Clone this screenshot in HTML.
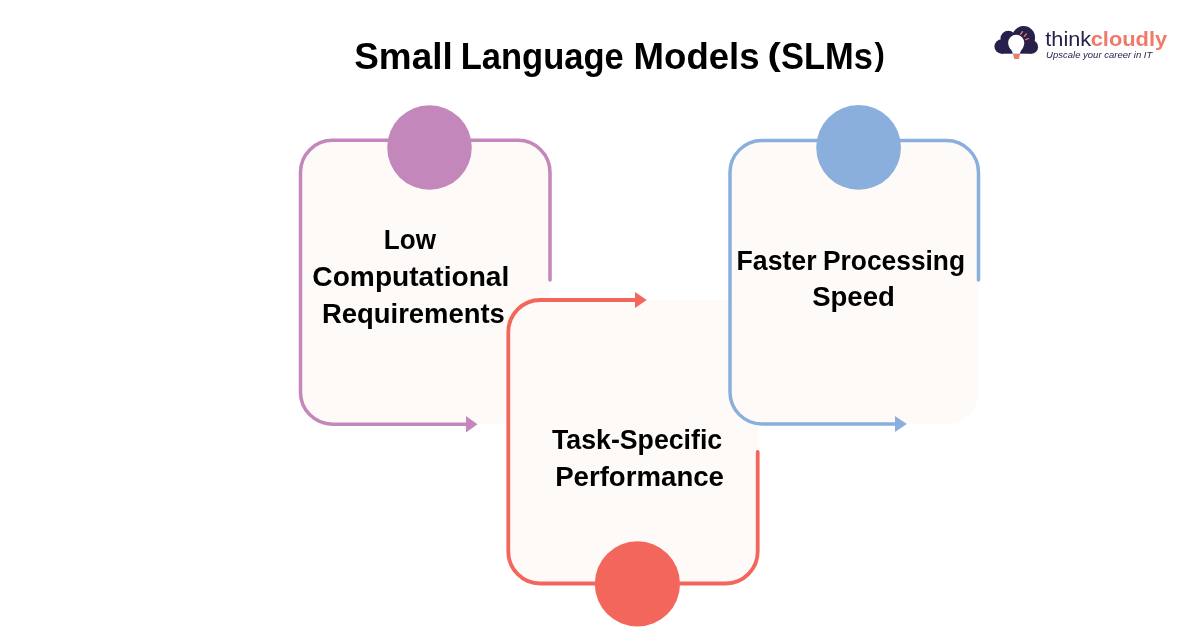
<!DOCTYPE html>
<html>
<head>
<meta charset="utf-8">
<style>
html,body{margin:0;padding:0;background:#ffffff;}
body{width:1200px;height:627px;overflow:hidden;position:relative;font-family:"Liberation Sans", sans-serif;}
svg{position:absolute;left:0;top:0;will-change:transform;}
</style>
</head>
<body>
<svg width="1200" height="627" viewBox="0 0 1200 627">
  <!-- Purple box -->
  <rect x="300.5" y="140.3" width="249.5" height="283.9" rx="32" ry="32" fill="#fefaf7"/>
  <path d="M550 280 V172.3 A32 32 0 0 0 518 140.3 H332.5 A32 32 0 0 0 300.5 172.3 V392.2 A32 32 0 0 0 332.5 424.2 H467" fill="none" stroke="#c487bb" stroke-width="3.5" stroke-linecap="round"/>
  <polygon points="466,416 477.5,424.2 466,432.4" fill="#c487bb"/>
  <circle cx="429.5" cy="147.5" r="42.3" fill="#c487bb"/>

  <!-- Red box -->
  <rect x="508.3" y="300" width="249.4" height="283.5" rx="32" ry="32" fill="#fefaf7"/>
  <path d="M757.7 452 V551.5 A32 32 0 0 1 725.7 583.5 H540.3 A32 32 0 0 1 508.3 551.5 V332 A32 32 0 0 1 540.3 300 H636" fill="none" stroke="#f3665b" stroke-width="3.8" stroke-linecap="round"/>
  <polygon points="635,292 646.7,300 635,308" fill="#f3665b"/>
  <circle cx="637.4" cy="583.9" r="42.6" fill="#f3665b"/>

  <!-- Blue box -->
  <rect x="730" y="140.5" width="248.5" height="283.5" rx="32" ry="32" fill="#fefaf7"/>
  <path d="M978.5 280 V172.5 A32 32 0 0 0 946.5 140.5 H762 A32 32 0 0 0 730 172.5 V392 A32 32 0 0 0 762 424 H896" fill="none" stroke="#8aafdc" stroke-width="3.5" stroke-linecap="round"/>
  <polygon points="895,416 906.8,424 895,432" fill="#8aafdc"/>
  <circle cx="858.6" cy="147.4" r="42.4" fill="#8aafdc"/>

  <!-- Texts -->
  <g font-family="Liberation Sans, sans-serif" font-weight="bold" fill="#000000">
    <text x="354.25" y="69" font-size="37" textLength="98.46" lengthAdjust="spacingAndGlyphs">Small</text>
    <text x="460.63" y="69" font-size="37" textLength="163.17" lengthAdjust="spacingAndGlyphs">Language</text>
    <text x="633.62" y="69" font-size="37" textLength="125.93" lengthAdjust="spacingAndGlyphs">Models</text>
    <text x="767.5" y="65.3" font-size="32" textLength="13.32" lengthAdjust="spacingAndGlyphs">(</text>
    <text x="780.97" y="69" font-size="37" textLength="91.85" lengthAdjust="spacingAndGlyphs">SLMs</text>
    <text x="874.4" y="65.3" font-size="32" textLength="10.3" lengthAdjust="spacingAndGlyphs">)</text>
    <text x="383.87" y="248.9" font-size="27" textLength="52.13" lengthAdjust="spacingAndGlyphs">Low</text>
    <text x="312.36" y="286" font-size="27" textLength="196.93" lengthAdjust="spacingAndGlyphs">Computational</text>
    <text x="321.97" y="323" font-size="27" textLength="182.86" lengthAdjust="spacingAndGlyphs">Requirements</text>
    <text x="736.53" y="269.5" font-size="27" textLength="80.02" lengthAdjust="spacingAndGlyphs">Faster</text>
    <text x="823.05" y="269.5" font-size="27" textLength="141.97" lengthAdjust="spacingAndGlyphs">Processing</text>
    <text x="812.18" y="306.3" font-size="27" textLength="82.59" lengthAdjust="spacingAndGlyphs">Speed</text>
    <text x="552.0" y="449" font-size="27" textLength="170.17" lengthAdjust="spacingAndGlyphs">Task-Specific</text>
    <text x="555.15" y="485.8" font-size="27" textLength="168.85" lengthAdjust="spacingAndGlyphs">Performance</text>
  </g>

  <!-- Logo -->
  <g>
    <g fill="#26204b">
      <circle cx="1001.6" cy="46.5" r="7.2"/>
      <circle cx="1008.3" cy="38.6" r="7.8"/>
      <circle cx="1023.6" cy="37.6" r="11.5"/>
      <circle cx="1031.3" cy="46.9" r="6.8"/>
      <rect x="1001.6" y="38" width="29.7" height="15.7"/>
    </g>
    <circle cx="1016.2" cy="42.9" r="8.1" fill="#ffffff"/>
    <path d="M1009.2 47 C1010.5 49.5 1012.7 51 1012.7 53.8 H1020 C1020 51 1022.2 49.5 1023.4 47 Z" fill="#ffffff"/>
    <path d="M1013 54 H1020 L1018.8 58.9 H1014.3 Z" fill="#f07a6a"/>
    <g stroke="#f07a6a" stroke-width="1.3" stroke-linecap="round">
      <line x1="1020.6" y1="34.2" x2="1022.5" y2="31.6"/>
      <line x1="1024.3" y1="36.4" x2="1026.3" y2="34"/>
      <line x1="1025.7" y1="39.6" x2="1028.5" y2="38.5"/>
    </g>
    <text x="1045.3" y="45.9" font-size="21" fill="#26204b" textLength="45.87" lengthAdjust="spacingAndGlyphs">think</text>
    <text x="1090.66" y="46" font-size="21" font-weight="bold" fill="#f07a6a" textLength="76.58" lengthAdjust="spacingAndGlyphs">cloudly</text>
    <text x="1046.1" y="57.6" font-size="8.5" font-style="italic" fill="#26204b" textLength="106.16" lengthAdjust="spacingAndGlyphs">Upscale your career in IT</text>
  </g>
</svg>
</body>
</html>
